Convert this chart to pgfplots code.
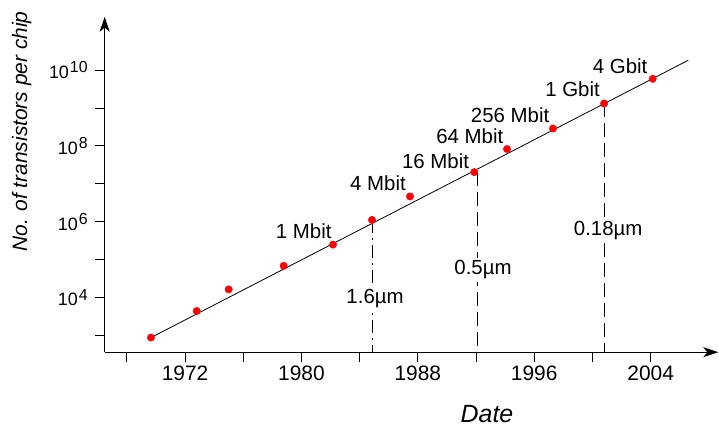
\documentclass[border=0pt]{standalone}
\usepackage{fontspec}
\setmainfont{Liberation Sans}
\usepackage{pgfplots}
\pgfplotsset{compat=1.18}
\usetikzlibrary{arrows.meta}
\newcommand{\tp}[1]{10\kern1bp\raisebox{5.6bp}{\fontsize{16}{16}\selectfont #1}}
\begin{document}
\begin{tikzpicture}
\useasboundingbox (-104.7bp,-75.8bp) rectangle (614.3bp,352.2bp);
\begin{axis}[
  at={(0,0)}, anchor=south west,
  scale only axis, width=613.6bp, height=335.5bp,
  xmin=1966.48, xmax=2008.65,
  ymode=log, ymin=367, ymax=2.55e11,
  axis lines=left,
  axis line style={line width=1.1bp, -{Stealth[length=15bp,width=10bp,inset=4bp]}},
  tick align=outside,
  major tick length=9.5bp,
  minor tick length=0pt,
  tick style={black, line width=1bp},
  xtick={1968,1972,1976,1980,1984,1988,1992,1996,2000,2004},
  xticklabels={,1972,,1980,,1988,,1996,,2004},
  ytick={1e3,1e4,1e5,1e6,1e7,1e8,1e9,1e10},
  yticklabels={,\tp{4},,\tp{6},,\tp{8},,\tp{10}},
  xticklabel style={font=\fontsize{21}{21}\selectfont, yshift=-1bp},
  yticklabel style={font=\fontsize{18}{18}\selectfont, xshift=-4bp},
  clip=false,
]
% feature-size lines
\addplot[black, line width=0.9bp, dash pattern=on 13bp off 5bp on 2bp off 5bp] coordinates {(1984.85,1.12e6) (1984.85,367)};
\addplot[black, line width=0.9bp, dash pattern=on 14bp off 6bp] coordinates {(1992.1,2.04e7) (1992.1,367)};
\addplot[black, line width=0.9bp, dash pattern=on 14bp off 6bp] coordinates {(2000.8,1.32e9) (2000.8,367)};
% trend line
\addplot[black, line width=0.8bp] coordinates {(1969.66,891) (2006.59,1.82e10)};
% data points
\addplot[only marks, mark=*, mark size=3.7bp, red, mark options={draw=red, fill=red}] coordinates {
(1969.66,891)
(1972.80,4467)
(1975.00,16596)
(1978.78,69183)
(1982.17,251189)
(1984.85,1122018)
(1987.46,4677351)
(1991.88,20417379)
(1994.13,83176377)
(1997.29,288403150)
(2000.80,1.318e9)
(2004.14,5.888e9)
};
\begin{scope}[every node/.style={font=\fontsize{20.5}{20.5}\selectfont, inner sep=1bp}]
\node at (axis cs:1980.16,5.55e5) {1 Mbit};
\node at (axis cs:1985.26,1.07e7) {4 Mbit};
\node at (axis cs:1989.22,4.07e7) {16 Mbit};
\node at (axis cs:1991.57,1.78e8) {64 Mbit};
\node at (axis cs:1994.34,6.38e8) {256 Mbit};
\node at (axis cs:1998.63,3.04e9) {1 Gbit};
\node at (axis cs:2001.90,1.25e10) {4 Gbit};
\node[fill=white, inner sep=3bp] at (axis cs:1985.06,9.7e3) {1.6µm};
\node[fill=white, inner sep=3bp] at (axis cs:1992.48,5.41e4) {0.5µm};
\node[fill=white, inner sep=3bp] at (axis cs:2001.08,5.89e5) {0.18µm};
\end{scope}
\end{axis}
\node[font=\itshape\fontsize{25}{25}\selectfont, inner sep=0pt] at (382.3bp,-61.5bp) {Date};
\node[font=\itshape\fontsize{21}{21}\selectfont, rotate=90, inner sep=0pt] at (-83bp,220.7bp) {No. of transistors per chip};
\end{tikzpicture}
\end{document}
